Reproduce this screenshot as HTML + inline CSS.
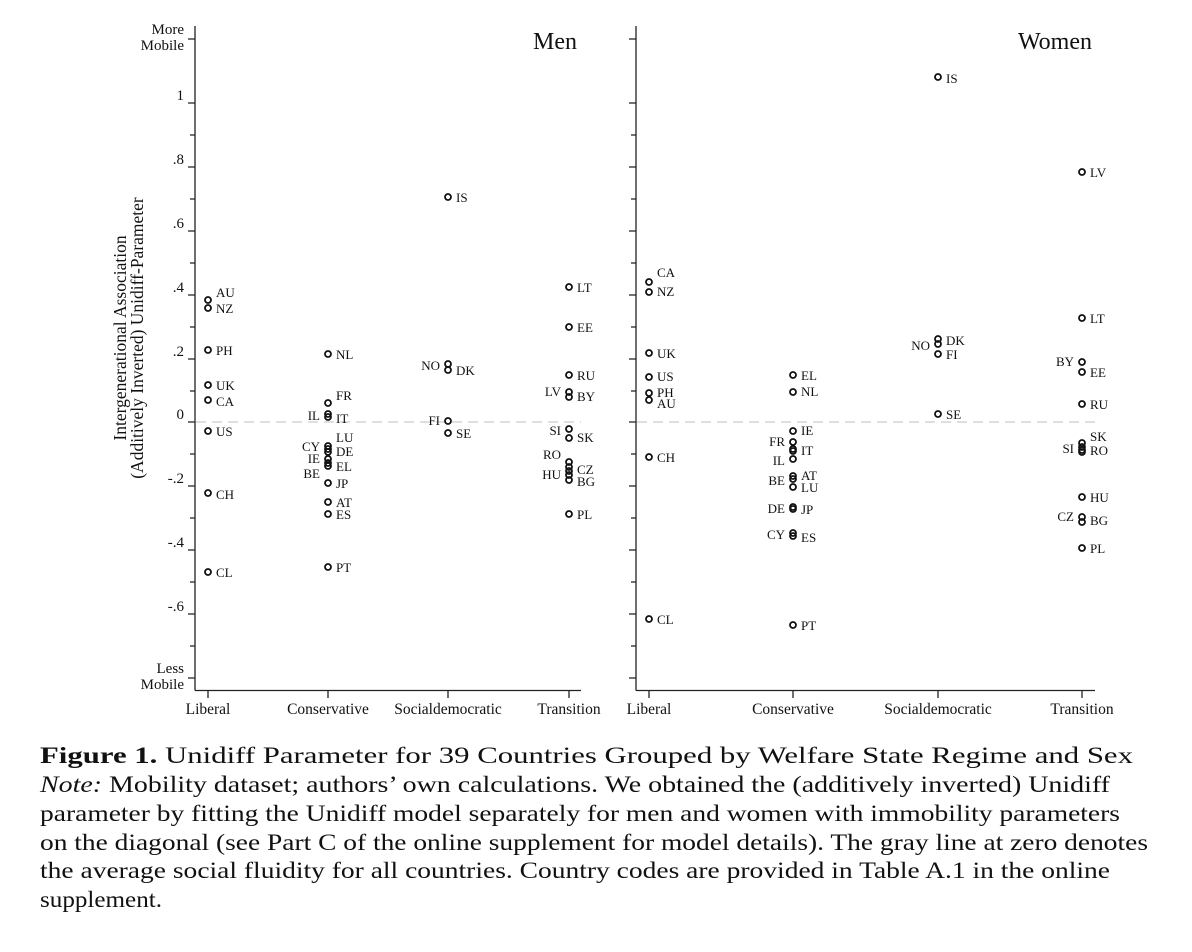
<!DOCTYPE html>
<html><head><meta charset="utf-8"><style>
html,body{margin:0;padding:0;background:#fff;}
svg{display:block;font-family:"Liberation Serif",serif;}
</style></head><body>
<svg width="1192" height="952" viewBox="0 0 1192 952" xmlns="http://www.w3.org/2000/svg">
<g stroke="#222" stroke-width="1.3" fill="none">
<line x1="195" y1="26" x2="195" y2="690.5"/>
<line x1="195" y1="690.5" x2="581" y2="690.5"/>
<line x1="636" y1="26" x2="636" y2="690.5"/>
<line x1="636" y1="690.5" x2="1095" y2="690.5"/>
<path d="M188 39H195M188 103H195M190 135H195M188 167H195M190 199H195M188 231H195M190 263H195M188 295H195M190 327H195M188 359H195M190 391H195M188 422H195M190 454H195M188 486H195M190 518H195M188 550H195M190 582H195M188 614H195M190 646H195M188 678H195"/>
<path d="M629 39H636M629 103H636M631 135H636M629 167H636M631 199H636M629 231H636M631 263H636M629 295H636M631 327H636M629 359H636M631 391H636M629 422H636M631 454H636M629 486H636M631 518H636M629 550H636M631 582H636M629 614H636M631 646H636M629 678H636"/>
<path d="M208 690V698M328 690V698M448 690V698M569 690V698M649 690V698M793 690V698M938 690V698M1082 690V698"/>
</g>
<line x1="196" y1="422" x2="581" y2="422" stroke="#ccc" stroke-width="1.2" stroke-dasharray="10,6"/>
<line x1="637" y1="422" x2="1095" y2="422" stroke="#ccc" stroke-width="1.2" stroke-dasharray="10,6"/>

<g font-size="15" fill="#111" text-anchor="end">
<text x="184" y="34">More</text><text x="184" y="50">Mobile</text>
<text x="184" y="100">1</text><text x="184" y="164">.8</text><text x="184" y="228">.6</text>
<text x="184" y="292">.4</text><text x="184" y="356">.2</text><text x="184" y="419">0</text>
<text x="184" y="483">-.2</text><text x="184" y="547">-.4</text><text x="184" y="611">-.6</text>
<text x="184" y="673">Less</text><text x="184" y="689">Mobile</text>
</g>
<g font-size="15.5" fill="#111" text-anchor="middle">
<text x="208" y="714">Liberal</text><text x="328" y="714">Conservative</text><text x="448" y="714">Socialdemocratic</text><text x="569" y="714">Transition</text>
<text x="649" y="714">Liberal</text><text x="793" y="714">Conservative</text><text x="938" y="714">Socialdemocratic</text><text x="1082" y="714">Transition</text>
</g>
<g font-size="17.5" fill="#111" text-anchor="middle">
<text transform="translate(126,338) rotate(-90)">Intergenerational Association</text>
<text transform="translate(143,338) rotate(-90)">(Additively Inverted) Unidiff-Parameter</text>
</g>
<text x="577" y="49" font-size="24" text-anchor="end" fill="#111">Men</text>
<text x="1092" y="49" font-size="24" text-anchor="end" fill="#111">Women</text>

<g fill="none" stroke="#111" stroke-width="1.8">
<circle cx="208" cy="300" r="3"/><circle cx="208" cy="308" r="3"/><circle cx="208" cy="350" r="3"/><circle cx="208" cy="385" r="3"/><circle cx="208" cy="400" r="3"/><circle cx="208" cy="431" r="3"/><circle cx="208" cy="493" r="3"/><circle cx="208" cy="572" r="3"/>
<circle cx="328" cy="354" r="3"/><circle cx="328" cy="403" r="3"/><circle cx="328" cy="414" r="3"/><circle cx="328" cy="417" r="3"/><circle cx="328" cy="446" r="3"/><circle cx="328" cy="449" r="3"/><circle cx="328" cy="452" r="3"/><circle cx="328" cy="459" r="3"/><circle cx="328" cy="463" r="3"/><circle cx="328" cy="466" r="3"/><circle cx="328" cy="483" r="3"/><circle cx="328" cy="502" r="3"/><circle cx="328" cy="514" r="3"/><circle cx="328" cy="567" r="3"/>
<circle cx="448" cy="197" r="3"/><circle cx="448" cy="364" r="3"/><circle cx="448" cy="370" r="3"/><circle cx="448" cy="421" r="3"/><circle cx="448" cy="433" r="3"/>
<circle cx="569" cy="287" r="3"/><circle cx="569" cy="327" r="3"/><circle cx="569" cy="375" r="3"/><circle cx="569" cy="392" r="3"/><circle cx="569" cy="397" r="3"/><circle cx="569" cy="429" r="3"/><circle cx="569" cy="438" r="3"/><circle cx="569" cy="462" r="3"/><circle cx="569" cy="467" r="3"/><circle cx="569" cy="471" r="3"/><circle cx="569" cy="475" r="3"/><circle cx="569" cy="480" r="3"/><circle cx="569" cy="514" r="3"/>
<circle cx="649" cy="282" r="3"/><circle cx="649" cy="292" r="3"/><circle cx="649" cy="353" r="3"/><circle cx="649" cy="377" r="3"/><circle cx="649" cy="393" r="3"/><circle cx="649" cy="400" r="3"/><circle cx="649" cy="457" r="3"/><circle cx="649" cy="619" r="3"/>
<circle cx="793" cy="375" r="3"/><circle cx="793" cy="392" r="3"/><circle cx="793" cy="431" r="3"/><circle cx="793" cy="442" r="3"/><circle cx="793" cy="449" r="3"/><circle cx="793" cy="451" r="3"/><circle cx="793" cy="459" r="3"/><circle cx="793" cy="476" r="3"/><circle cx="793" cy="479" r="3"/><circle cx="793" cy="487" r="3"/><circle cx="793" cy="507" r="3"/><circle cx="793" cy="509" r="3"/><circle cx="793" cy="533" r="3"/><circle cx="793" cy="536" r="3"/><circle cx="793" cy="625" r="3"/>
<circle cx="938" cy="77" r="3"/><circle cx="938" cy="339" r="3"/><circle cx="938" cy="344" r="3"/><circle cx="938" cy="354" r="3"/><circle cx="938" cy="414" r="3"/>
<circle cx="1082" cy="172" r="3"/><circle cx="1082" cy="318" r="3"/><circle cx="1082" cy="362" r="3"/><circle cx="1082" cy="372" r="3"/><circle cx="1082" cy="404" r="3"/><circle cx="1082" cy="443" r="3"/><circle cx="1082" cy="447" r="3"/><circle cx="1082" cy="450" r="3"/><circle cx="1082" cy="452" r="3"/><circle cx="1082" cy="497" r="3"/><circle cx="1082" cy="517" r="3"/><circle cx="1082" cy="522" r="3"/><circle cx="1082" cy="548" r="3"/>
</g>

<g font-size="13" fill="#111">
<text x="216" y="297">AU</text><text x="216" y="313">NZ</text><text x="216" y="355">PH</text><text x="216" y="390">UK</text><text x="216" y="406">CA</text><text x="216" y="436">US</text><text x="216" y="499">CH</text><text x="216" y="577">CL</text>
<text x="336" y="359">NL</text><text x="336" y="400">FR</text><text x="336" y="423">IT</text><text x="336" y="442">LU</text><text x="336" y="456">DE</text><text x="336" y="471">EL</text><text x="336" y="488">JP</text><text x="336" y="507">AT</text><text x="336" y="519">ES</text><text x="336" y="572">PT</text>
<text x="456" y="202">IS</text><text x="456" y="375">DK</text><text x="456" y="438">SE</text>
<text x="577" y="292">LT</text><text x="577" y="332">EE</text><text x="577" y="380">RU</text><text x="577" y="401">BY</text><text x="577" y="442">SK</text><text x="577" y="474">CZ</text><text x="577" y="486">BG</text><text x="577" y="519">PL</text>
<text x="657" y="277">CA</text><text x="657" y="296">NZ</text><text x="657" y="358">UK</text><text x="657" y="381">US</text><text x="657" y="397">PH</text><text x="657" y="408">AU</text><text x="657" y="462">CH</text><text x="657" y="624">CL</text>
<text x="801" y="380">EL</text><text x="801" y="396">NL</text><text x="801" y="435">IE</text><text x="801" y="455">IT</text><text x="801" y="480">AT</text><text x="801" y="492">LU</text><text x="801" y="514">JP</text><text x="801" y="542">ES</text><text x="801" y="630">PT</text>
<text x="946" y="83">IS</text><text x="946" y="345">DK</text><text x="946" y="359">FI</text><text x="946" y="419">SE</text>
<text x="1090" y="177">LV</text><text x="1090" y="323">LT</text><text x="1090" y="377">EE</text><text x="1090" y="409">RU</text><text x="1090" y="441">SK</text><text x="1090" y="455">RO</text><text x="1090" y="502">HU</text><text x="1090" y="525">BG</text><text x="1090" y="553">PL</text>
</g>
<g font-size="13" fill="#111" text-anchor="end">
<text x="320" y="420">IL</text><text x="320" y="451">CY</text><text x="320" y="463">IE</text><text x="320" y="478">BE</text>
<text x="440" y="370">NO</text><text x="440" y="425">FI</text>
<text x="561" y="396">LV</text><text x="561" y="435">SI</text><text x="561" y="459">RO</text><text x="561" y="479">HU</text>
<text x="785" y="446">FR</text><text x="785" y="465">IL</text><text x="785" y="485">BE</text><text x="785" y="513">DE</text><text x="785" y="539">CY</text>
<text x="930" y="350">NO</text>
<text x="1074" y="366">BY</text><text x="1074" y="453">SI</text><text x="1074" y="521">CZ</text>
</g>

<g font-size="23" fill="#111">
<text x="40" y="763" textLength="1093" lengthAdjust="spacingAndGlyphs"><tspan font-weight="bold">Figure 1.</tspan>  Unidiff Parameter for 39 Countries Grouped by Welfare State Regime and Sex</text>
<text x="40" y="792" textLength="1070" lengthAdjust="spacingAndGlyphs"><tspan font-style="italic">Note:</tspan> Mobility dataset; authors’ own calculations. We obtained the (additively inverted) Unidiff</text>
<text x="40" y="821" textLength="1080" lengthAdjust="spacingAndGlyphs">parameter by fitting the Unidiff model separately for men and women with immobility parameters</text>
<text x="40" y="850" textLength="1108" lengthAdjust="spacingAndGlyphs">on the diagonal (see Part C of the online supplement for model details). The gray line at zero denotes</text>
<text x="40" y="878" textLength="1070" lengthAdjust="spacingAndGlyphs">the average social fluidity for all countries. Country codes are provided in Table A.1 in the online</text>
<text x="40" y="907" textLength="122" lengthAdjust="spacingAndGlyphs">supplement.</text>
</g>
</svg>
</body></html>
